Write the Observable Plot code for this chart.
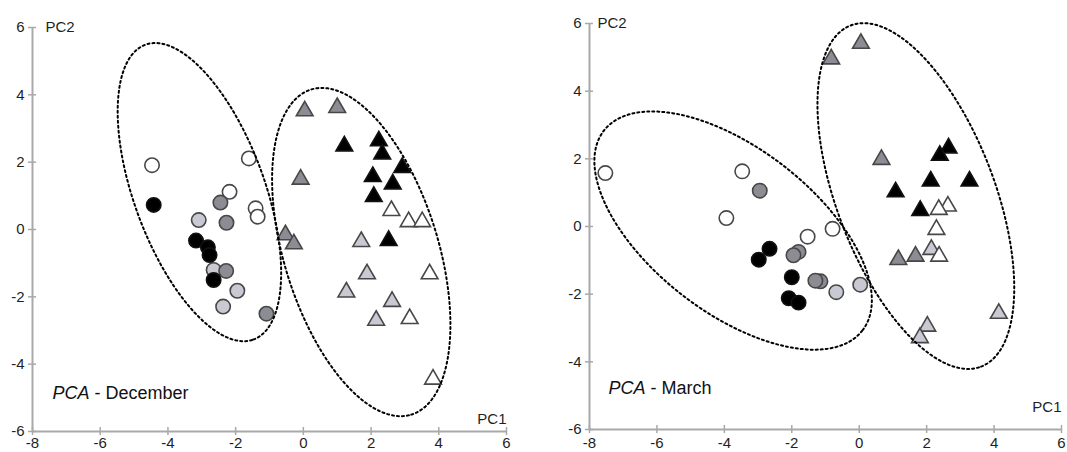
<!DOCTYPE html>
<html>
<head>
<meta charset="utf-8">
<script src="https://cdn.jsdelivr.net/npm/d3@7"></script>
<script src="https://cdn.jsdelivr.net/npm/@observablehq/plot@0.6"></script>
<style>
  body { margin: 0; background: #ffffff; }
  #charts { display: flex; width: 1067px; height: 452px; overflow: hidden; }
</style>
</head>
<body>
<div id="charts"></div>
<script>
// Axis extents and ticks shared by both panels
const xDomain = [-8, 6];
const yDomain = [-6, 6];
const xTicks = [-8, -6, -4, -2, 0, 2, 4, 6];
const yTicks = [-6, -4, -2, 0, 2, 4, 6];

// Fill shades of the samples
const shades = ["white", "light", "dark", "black"];
const shadeColors = ["#ffffff", "#c9c9d3", "#8c8c94", "#000000"];

// December scores: [PC1, PC2, shade]
const decemberCircles = [
  [-4.47, 1.91, "white"], [-1.61, 2.11, "white"], [-2.18, 1.12, "white"],
  [-1.41, 0.63, "white"], [-1.35, 0.38, "white"],
  [-3.09, 0.28, "light"], [-2.65, -1.20, "light"], [-1.95, -1.82, "light"], [-2.37, -2.29, "light"],
  [-2.45, 0.80, "dark"], [-2.27, 0.20, "dark"], [-2.28, -1.23, "dark"], [-1.09, -2.50, "dark"],
  [-4.42, 0.73, "black"], [-3.17, -0.33, "black"], [-2.82, -0.53, "black"],
  [-2.77, -0.76, "black"], [-2.65, -1.50, "black"]
];
const decemberTriangles = [
  [0.04, 3.52, "dark"], [1.00, 3.62, "dark"], [-0.08, 1.49, "dark"],
  [-0.53, -0.16, "dark"], [-0.28, -0.43, "dark"],
  [2.60, 0.56, "white"], [3.11, 0.23, "white"], [3.51, 0.23, "white"],
  [3.73, -1.32, "white"], [3.14, -2.65, "white"], [3.83, -4.45, "white"],
  [1.71, -0.36, "light"], [1.88, -1.32, "light"], [1.27, -1.86, "light"],
  [2.62, -2.14, "light"], [2.15, -2.70, "light"],
  [1.21, 2.48, "black"], [2.23, 2.63, "black"], [2.33, 2.24, "black"], [2.92, 1.84, "black"],
  [2.05, 1.57, "black"], [2.64, 1.35, "black"], [2.08, 0.98, "black"], [2.52, -0.33, "black"]
];

// March scores: [PC1, PC2, shade]
const marchCircles = [
  [-7.53, 1.58, "white"], [-3.47, 1.63, "white"], [-3.94, 0.25, "white"],
  [-1.53, -0.30, "white"], [-0.79, -0.07, "white"],
  [-0.68, -1.94, "light"], [0.03, -1.72, "light"],
  [-2.95, 1.06, "dark"], [-1.80, -0.75, "dark"], [-1.95, -0.85, "dark"],
  [-1.15, -1.62, "dark"], [-1.30, -1.60, "dark"],
  [-2.98, -0.98, "black"], [-2.66, -0.66, "black"], [-2.00, -1.50, "black"],
  [-2.09, -2.12, "black"], [-1.80, -2.25, "black"]
];
const marchTriangles = [
  [-0.83, 4.95, "dark"], [0.05, 5.41, "dark"], [0.66, 1.98, "dark"],
  [1.16, -0.98, "dark"], [1.67, -0.88, "dark"],
  [2.63, 0.60, "white"], [2.36, 0.50, "white"], [2.29, -0.09, "white"],
  [2.14, -0.68, "light"], [2.37, -0.88, "white"],
  [4.14, -2.57, "light"], [2.02, -2.95, "light"], [1.80, -3.29, "light"],
  [2.65, 2.32, "black"], [2.39, 2.10, "black"], [2.12, 1.34, "black"],
  [3.27, 1.34, "black"], [1.08, 1.02, "black"], [1.81, 0.47, "black"]
];

// Group ellipses: [centre PC1, centre PC2, semi-major, semi-minor, angle in degrees]
const decemberEllipses = [[-3.07, 1.11, 4.66, 1.93, -70], [1.71, -0.67, 5.05, 2.28, -73]];
const marchEllipses = [[-3.74, -0.12, 4.84, 2.43, -37.5], [1.68, 0.90, 5.40, 2.34, -69]];

const toPoints = rows => rows.map(([x, y, shade]) => ({x, y, shade}));

function ellipsePath([cx, cy, a, b, deg], id) {
  const t = deg * Math.PI / 180;
  return d3.range(0, 361, 1).map(s => {
    const u = s * Math.PI / 180;
    const ex = a * Math.cos(u), ey = b * Math.sin(u);
    return {id, x: cx + ex * Math.cos(t) - ey * Math.sin(t), y: cy + ex * Math.sin(t) + ey * Math.cos(t)};
  });
}

const axisColor = "#a9a9a9";
const labelColor = "#1f1f1f";
const tickHalf = 0.12;

function panel(o) {
  const circles = toPoints(o.circles);
  const triangles = toPoints(o.triangles);
  const rings = o.ellipses.flatMap((e, i) => ellipsePath(e, i));
  const dotStyle = {x: "x", y: "y", fill: "shade", strokeWidth: 1.6};
  return Plot.plot({
    width: o.width,
    height: 452,
    marginLeft: o.marginLeft,
    marginRight: o.marginRight,
    marginTop: o.marginTop,
    marginBottom: o.marginBottom,
    style: {fontFamily: "'Liberation Sans', Arial, sans-serif", background: "#ffffff", overflow: "visible"},
    x: {domain: xDomain, axis: null},
    y: {domain: yDomain, axis: null},
    color: {domain: shades, range: shadeColors},
    marks: [
      // axis lines and crossing ticks
      Plot.ruleY([yDomain[0]], {y: d => d, x1: () => xDomain[0], x2: () => xDomain[1], stroke: axisColor, strokeWidth: 2}),
      Plot.ruleX([xDomain[0]], {x: d => d, y1: () => yDomain[0], y2: () => yDomain[1], stroke: axisColor, strokeWidth: 2}),
      Plot.ruleX(xTicks, {x: d => d, y1: () => yDomain[0] - tickHalf, y2: () => yDomain[0] + tickHalf, stroke: axisColor, strokeWidth: 1.5}),
      Plot.ruleY(yTicks, {y: d => d, x1: () => xDomain[0] - tickHalf, x2: () => xDomain[0] + tickHalf, stroke: axisColor, strokeWidth: 1.5}),
      Plot.text(xTicks, {x: d => d, y: () => yDomain[0], text: d => String(d), dy: o.xTickDy, fontSize: 15, fill: labelColor}),
      Plot.text(yTicks, {x: () => xDomain[0], y: d => d, text: d => String(d), dx: -8, textAnchor: "end", fontSize: 15, fill: labelColor}),
      Plot.text(["PC2"], {x: () => xDomain[0], y: () => yDomain[1], text: d => d, dx: o.pc2Dx, textAnchor: "start", fontSize: 15, fill: labelColor}),
      Plot.text(["PC1"], {x: () => xDomain[1], y: () => yDomain[0], text: d => d, dy: o.pc1Dy, textAnchor: "end", fontSize: 15, fill: labelColor}),
      // samples
      Plot.dot(circles.filter(d => d.shade !== "black"), {...dotStyle, symbol: "circle", r: 7.2, stroke: "#474747"}),
      Plot.dot(circles.filter(d => d.shade === "black"), {...dotStyle, symbol: "circle", r: 7.2, stroke: "#111111"}),
      Plot.dot(triangles.filter(d => d.shade !== "black"), {...dotStyle, symbol: "triangle", r: 6.2, stroke: "#474747"}),
      Plot.dot(triangles.filter(d => d.shade === "black"), {...dotStyle, symbol: "triangle", r: 6.2, stroke: "#111111"}),
      // group ellipses
      Plot.line(rings, {x: "x", y: "y", z: "id", stroke: "#000000", strokeWidth: 2, strokeDasharray: "2,3"}),
      // panel caption
      Plot.text(["PCA"], {frameAnchor: "bottom-left", text: d => d, dx: o.titleDx, dy: o.titleDy, textAnchor: "start", fontSize: 18, fontStyle: "italic", fill: "#111111"}),
      Plot.text([o.title], {frameAnchor: "bottom-left", text: d => d, dx: o.titleDx + 42, dy: o.titleDy, textAnchor: "start", fontSize: 18, fill: "#111111"})
    ]
  });
}

const charts = document.getElementById("charts");
charts.append(panel({
  circles: decemberCircles, triangles: decemberTriangles, ellipses: decemberEllipses,
  title: "- December", width: 533, marginLeft: 32, marginRight: 27, marginTop: 27, marginBottom: 21,
  xTickDy: 12, pc2Dx: 13, pc1Dy: -12, titleDx: 20, titleDy: -33
}));
charts.append(panel({
  circles: marchCircles, triangles: marchTriangles, ellipses: marchEllipses,
  title: "- March", width: 534, marginLeft: 56, marginRight: 6, marginTop: 23, marginBottom: 23,
  xTickDy: 14, pc2Dx: 8, pc1Dy: -22, titleDx: 19, titleDy: -36
}));
</script>
</body>
</html>
